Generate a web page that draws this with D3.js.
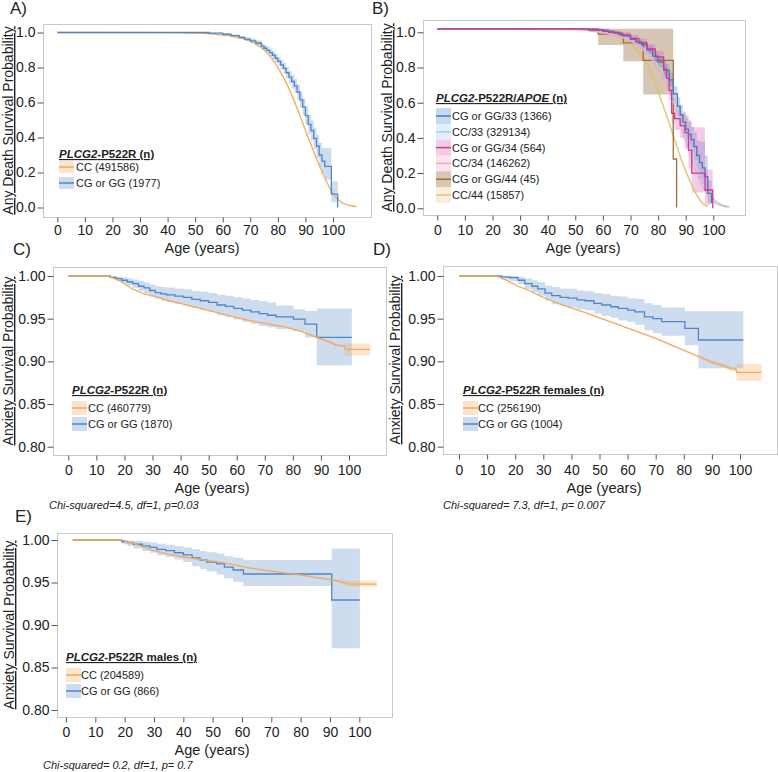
<!DOCTYPE html>
<html><head><meta charset="utf-8">
<script src="https://cdn.jsdelivr.net/npm/d3@7"></script>
<style>
body{margin:0;background:#fff}
text{font-family:"Liberation Sans",Arial,sans-serif;fill:#222}
</style>
</head><body>
<svg id="c" width="778" height="772"></svg>
<script>
// ---------------- DATA ----------------
const xTicks = [0,10,20,30,40,50,60,70,80,90,100];
const yTicksAB = [0.0,0.2,0.4,0.6,0.8,1.0];
const yTicksCDE = [0.80,0.85,0.90,0.95,1.00];

// Panel A
const A_cc_age  = [0,40,50,55,60,65,70,73,76,79,82,85,88,91,94,97,100,103,106,108.5];
const A_cc_surv = [1.0,0.999,0.996,0.992,0.985,0.972,0.95,0.925,0.885,0.825,0.745,0.645,0.525,0.40,0.28,0.17,0.08,0.03,0.012,0.005];
const A_cg_age  = [0,55,60,63,66,68,70,72,74,75,76,77,78,79,80,81,82,83,84,85,86,87,88,89,90,91,92,93,94,95,96,97,99.4,101.7];
const A_cg_surv = [1.0,0.996,0.99,0.982,0.972,0.962,0.952,0.94,0.922,0.91,0.898,0.885,0.87,0.853,0.835,0.815,0.795,0.77,0.745,0.72,0.695,0.66,0.615,0.575,0.525,0.475,0.44,0.395,0.35,0.3,0.265,0.235,0.077,0.0];
const A_cg_lo   = [1.0,0.993,0.985,0.975,0.963,0.951,0.939,0.925,0.905,0.892,0.878,0.863,0.846,0.828,0.808,0.786,0.764,0.737,0.71,0.682,0.655,0.617,0.57,0.527,0.474,0.42,0.382,0.333,0.285,0.23,0.19,0.16,0.03,0.0];
const A_cg_hi   = [1.0,0.999,0.995,0.989,0.981,0.973,0.965,0.955,0.939,0.928,0.918,0.907,0.894,0.878,0.862,0.844,0.826,0.803,0.78,0.758,0.735,0.703,0.66,0.623,0.576,0.53,0.498,0.457,0.415,0.37,0.34,0.34,0.15,0.0];
const A_labels = ["CC (491586)","CG or GG (1977)"];

// Panel B
const B_cg33_age  = [0,55,60,64,67,70,72,74,76,78,80,82,84,85.5,87,88,89,90,91,92,93,94,95,96,97,98,99.4];
const B_cg33_surv = [1.02,1.015,1.005,0.995,0.98,0.96,0.945,0.93,0.9,0.865,0.83,0.785,0.73,0.65,0.58,0.53,0.49,0.45,0.42,0.39,0.35,0.3,0.26,0.23,0.18,0.085,0.03];
const B_cg33_lo   = [1.02,1.01,0.998,0.985,0.968,0.945,0.928,0.91,0.877,0.838,0.8,0.75,0.69,0.605,0.53,0.475,0.43,0.385,0.35,0.315,0.27,0.215,0.17,0.14,0.09,0.03,0.0];
const B_cg33_hi   = [1.02,1.02,1.012,1.005,0.992,0.975,0.962,0.95,0.923,0.892,0.86,0.82,0.77,0.695,0.63,0.585,0.55,0.515,0.49,0.465,0.43,0.385,0.38,0.38,0.3,0.16,0.1];
const B_cc33_age  = [0,50,55,60,65,70,75,80,83,85.5,88,90,92,94,96,98,100,102,104,106];
const B_cc33_surv = [1.02,1.018,1.012,1.0,0.985,0.96,0.905,0.81,0.73,0.64,0.52,0.42,0.33,0.24,0.16,0.1,0.055,0.03,0.015,0.008];
const B_cg34_age  = [0,55,62,66,70,73,76,79,82,83,84,84.9,86,88,89.7,91,92.2,97,99.8];
const B_cg34_surv = [1.02,1.012,1.0,0.985,0.965,0.94,0.905,0.86,0.79,0.74,0.67,0.54,0.51,0.47,0.43,0.33,0.2,0.104,0.0];
const B_cg34_lo   = [1.02,1.005,0.99,0.97,0.945,0.915,0.875,0.825,0.745,0.69,0.615,0.48,0.445,0.4,0.34,0.23,0.09,0.02,0.0];
const B_cg34_hi   = [1.02,1.02,1.01,1.0,0.985,0.965,0.935,0.895,0.835,0.79,0.725,0.6,0.575,0.54,0.53,0.5,0.46,0.22,0.0];
const B_cc34_age  = [0,50,55,60,65,70,75,80,83,85.5,88,90,92,94,96,98,100,102,104,105];
const B_cc34_surv = [1.02,1.017,1.01,0.997,0.98,0.953,0.893,0.79,0.705,0.61,0.48,0.38,0.29,0.2,0.13,0.075,0.04,0.02,0.01,0.005];
const B_cg44_age  = [0,58.3,67.4,74.6,85.5,86.7];
const B_cg44_surv = [1.02,0.99,0.94,0.84,0.28,0.005];
const B_cg44_lo   = [1.02,0.928,0.836,0.646,0.28,0.005];
const B_cg44_hi   = [1.02,1.02,1.02,1.02,0.28,0.005];
const B_cc44_age  = [0,50,60,65,70,73,76,78,80,82,84,86,88,90,92,94,96,98];
const B_cc44_surv = [1.02,1.015,1.0,0.98,0.94,0.89,0.82,0.755,0.665,0.575,0.485,0.39,0.295,0.21,0.14,0.075,0.03,0.01];
const B_cc44_lo   = [1.02,1.012,0.995,0.972,0.93,0.878,0.805,0.738,0.647,0.556,0.466,0.371,0.277,0.194,0.126,0.064,0.022,0.005];
const B_cc44_hi   = [1.02,1.018,1.005,0.988,0.95,0.902,0.835,0.772,0.683,0.594,0.504,0.409,0.313,0.226,0.154,0.086,0.038,0.015];
const B_labels = ["CG or GG/33 (1366)","CC/33 (329134)","CG or GG/34 (564)","CC/34 (146262)","CG or GG/44 (45)","CC/44 (15857)"];

// Panel C
const C_cc_age  = [0,14,18,23,27,31.5,36,41,47,53,59,65,71,77,83,88.5,92,95.6,98.4,98.6,107.5];
const C_cc_surv = [1.0,1.0,0.995,0.9845,0.979,0.9755,0.971,0.967,0.962,0.957,0.952,0.9475,0.944,0.9405,0.935,0.928,0.924,0.919,0.918,0.914,0.914];
const C_cc_lo   = [1.0,1.0,0.9945,0.984,0.9785,0.975,0.9705,0.9665,0.9615,0.9565,0.9515,0.947,0.9435,0.94,0.934,0.927,0.9225,0.9175,0.9165,0.907,0.907];
const C_cc_hi   = [1.0,1.0,0.9955,0.985,0.9795,0.976,0.9715,0.9675,0.9625,0.9575,0.9525,0.948,0.9445,0.941,0.936,0.929,0.9255,0.9205,0.9195,0.921,0.921];
const C_cg_age  = [0,15,17,19,21,23,25,27,29,31,33,35,38,41,44,47,50,53,56,59,62,65,68,71,74,80.2,84.3,88.5,101];
const C_cg_surv = [1.0,0.9985,0.997,0.995,0.993,0.991,0.988,0.986,0.983,0.9805,0.979,0.978,0.9765,0.975,0.9725,0.971,0.969,0.966,0.9645,0.962,0.96,0.958,0.956,0.954,0.952,0.9495,0.9435,0.928,0.928];
const C_cg_hi   = [1.0,1.0,0.9995,0.9985,0.997,0.996,0.994,0.9925,0.99,0.988,0.987,0.9865,0.9855,0.9845,0.9825,0.9815,0.98,0.978,0.977,0.975,0.9735,0.972,0.9705,0.969,0.9655,0.961,0.959,0.962,0.962];
const C_cg_lo   = [1.0,0.997,0.994,0.9915,0.989,0.986,0.982,0.9795,0.976,0.973,0.971,0.9695,0.9675,0.9655,0.9625,0.9605,0.958,0.954,0.952,0.949,0.9465,0.944,0.9415,0.94,0.938,0.9355,0.928,0.8955,0.8955];
const C_labels = ["CC (460779)","CG or GG (1870)"];

// Panel D
const D_cc_age  = [0,13,17,21,25,29,33,37,41,45,50,55,60,65,70,75,80,85,90,94.6,96.5,98.6,98.8,107.7];
const D_cc_surv = [1.0,1.0,0.995,0.988,0.983,0.9765,0.971,0.966,0.9615,0.957,0.951,0.945,0.939,0.933,0.927,0.92,0.913,0.906,0.899,0.8945,0.8915,0.891,0.887,0.887];
const D_cc_lo   = [1.0,1.0,0.9945,0.9875,0.9825,0.976,0.9705,0.9655,0.961,0.9565,0.9505,0.9445,0.9385,0.9325,0.9263,0.919,0.912,0.9045,0.897,0.8925,0.889,0.8885,0.877,0.877];
const D_cc_hi   = [1.0,1.0,0.9955,0.9885,0.9835,0.977,0.9715,0.9665,0.962,0.9575,0.9515,0.9455,0.9395,0.9335,0.9277,0.921,0.914,0.9075,0.901,0.8965,0.894,0.8935,0.8965,0.8965];
const D_cg_age  = [0,15.2,18,21,23.4,26,28,30.6,33,36,38.9,42,44.8,48,50.8,54,56.7,60,62.6,66,69,72.1,80.4,85.2,101.2];
const D_cg_surv = [1.0,0.999,0.998,0.995,0.991,0.988,0.985,0.98,0.977,0.975,0.974,0.972,0.971,0.968,0.966,0.964,0.962,0.96,0.958,0.952,0.95,0.9465,0.9387,0.925,0.925];
const D_cg_hi   = [1.0,1.0,1.0,0.999,0.997,0.995,0.993,0.989,0.987,0.985,0.985,0.983,0.982,0.98,0.979,0.977,0.976,0.974,0.973,0.968,0.966,0.963,0.9586,0.9586,0.9586];
const D_cg_lo   = [1.0,0.996,0.994,0.99,0.985,0.981,0.977,0.971,0.967,0.965,0.963,0.961,0.96,0.956,0.953,0.951,0.948,0.946,0.943,0.936,0.933,0.93,0.919,0.892,0.892];
const D_labels = ["CC (256190)","CG or GG (1004)"];

// Panel E
const E_cc_age  = [2.3,19,23,28.6,34,40,45.7,51.4,57,62,68.4,74,79.8,85,91.1,96.8,105.9];
const E_cc_surv = [1.0,1.0,0.996,0.989,0.984,0.98,0.977,0.9745,0.971,0.9675,0.964,0.9615,0.959,0.956,0.953,0.948,0.948];
const E_cc_lo   = [1.0,1.0,0.9955,0.9885,0.9835,0.9795,0.9765,0.974,0.9705,0.967,0.9633,0.9607,0.9582,0.9552,0.952,0.9451,0.9451];
const E_cc_hi   = [1.0,1.0,0.9965,0.9895,0.9845,0.9805,0.9775,0.975,0.9715,0.968,0.9647,0.9623,0.9598,0.9568,0.954,0.9525,0.9525];
const E_cg_age  = [2.3,19,21,23,26,28.6,31,34,37,40,43,45.7,48,51.4,54,57,60.5,90.6,100.2];
const E_cg_surv = [1.0,0.998,0.997,0.995,0.993,0.9914,0.989,0.9874,0.985,0.9824,0.979,0.9765,0.974,0.9718,0.968,0.9647,0.96,0.9294,0.9294];
const E_cg_hi   = [1.0,1.0,0.9995,0.999,0.998,0.997,0.9955,0.9945,0.993,0.991,0.989,0.987,0.9855,0.984,0.981,0.979,0.9765,0.990,0.990];
const E_cg_lo   = [1.0,0.995,0.993,0.99,0.987,0.985,0.982,0.98,0.977,0.974,0.969,0.966,0.963,0.9595,0.955,0.951,0.946,0.8726,0.8726];
const E_labels = ["CC (204589)","CG or GG (866)"];

// ---------------- STYLE ----------------
const ORANGE = "#f4a95c", ORANGE_BAND = "rgba(246,170,90,0.30)";
const BLUE = "#4f86c6", BLUE_BAND = "rgba(90,140,200,0.30)";

const svg = d3.select("#c");

function toPts(age, s, lo, hi){
  return age.map((a,i)=>({a, s:s[i], lo: lo?lo[i]:null, hi: hi?hi[i]:null}));
}

function drawPanel(p){
  const g = svg.append("g");
  const x = d3.scaleLinear().domain([0,100]).range(p.xr);
  const y = d3.scaleLinear().domain(p.yd).range(p.yr);
  const [fl,ft,fr,fb] = p.frame;
  g.append("rect").attr("x",fl+0.5).attr("y",ft+0.5).attr("width",fr-fl).attr("height",fb-ft)
    .attr("fill","none").attr("stroke","#c9c9c9").attr("stroke-width",1);

  const ya = d3.axisLeft(y).tickValues(p.yt).tickFormat(d3.format(p.yf)).tickSize(6).tickPadding(2);
  const yg = g.append("g").attr("transform",`translate(${fl+0.5},0)`).call(ya);
  yg.select(".domain").remove();
  const xa = d3.axisBottom(x).tickValues(xTicks).tickSize(5).tickPadding(p.xp);
  const xg = g.append("g").attr("transform",`translate(0,${fb+0.5})`).call(xa);
  xg.select(".domain").remove();
  [yg,xg].forEach(a=>{
    a.attr("font-family",null).attr("font-size",null);
    a.selectAll("text").style("font-size","14px").style("fill","#222");
    a.selectAll("line").attr("stroke","#555");
  });

  // bands
  p.series.forEach(se=>{
    if(!se.lo) return;
    const pts = toPts(se.age, se.surv, se.lo, se.hi);
    const area = d3.area().x(d=>x(d.a)).y0(d=>y(d.lo)).y1(d=>y(d.hi))
      .curve(se.step ? d3.curveStepAfter : d3.curveLinear);
    g.append("path").attr("d",area(pts)).attr("fill",se.band).attr("stroke","none");
  });
  // lines
  p.series.forEach(se=>{
    const pts = toPts(se.age, se.surv);
    const line = d3.line().x(d=>x(d.a)).y(d=>y(d.s))
      .curve(se.step ? d3.curveStepAfter : (se.smooth ? d3.curveMonotoneX : d3.curveLinear));
    g.append("path").attr("d",line(pts)).attr("fill","none").attr("stroke",se.color).attr("stroke-width",se.w||1.3);
  });

  // axis titles
  g.append("text").attr("x",p.xlab[0]).attr("y",p.xlab[1]).attr("text-anchor","middle")
    .style("font-size","14.5px").text("Age (years)");
  g.append("text").attr("transform",`translate(${p.ylab[0]},${(ft+fb)/2}) rotate(-90)`)
    .attr("text-anchor","middle").style("font-size","14px").attr("text-decoration","underline")
    .text(p.ylab[1]);
  g.append("text").attr("x",p.letter[0]).attr("y",p.letter[1]).style("font-size","17px").text(p.letter[2]);
  if(p.chi){
    g.append("text").attr("x",p.chi[0]).attr("y",p.chi[1]).style("font-size","11px")
      .style("font-style","italic").text(p.chi[2]);
  }

  // legend
  const L = p.legend;
  const t = g.append("text").attr("x",L.x).attr("y",L.ty).style("font-size","11.5px")
    .style("font-weight","bold").attr("text-decoration","underline");
  L.title.forEach(part=>{
    t.append("tspan").style("font-style",part[1]?"italic":"normal").text(part[0]);
  });
  L.labels.forEach((lab,i)=>{
    const cy = L.y0 + i*L.dy;
    const se = L.items[i];
    g.append("rect").attr("x",L.x).attr("y",cy-L.rh/2).attr("width",15).attr("height",L.rh)
      .attr("fill",se.band);
    g.append("line").attr("x1",L.x).attr("x2",L.x+15).attr("y1",cy).attr("y2",cy)
      .attr("stroke",se.color).attr("stroke-width",1.5);
    g.append("text").attr("x",L.tx).attr("y",cy+4).style("font-size","11px").text(lab);
  });
}

// ---------------- PANELS ----------------
const sA_cc = {age:A_cc_age, surv:A_cc_surv, color:ORANGE, band:ORANGE_BAND, smooth:true};
const sA_cg = {age:A_cg_age, surv:A_cg_surv, lo:A_cg_lo, hi:A_cg_hi, color:BLUE, band:BLUE_BAND, step:true};
drawPanel({
  frame:[43,24,371,217], xr:[57.3,333], yd:[0,1], yr:[207.5,32.5], yt:yTicksAB, yf:".1f", xp:2.5,
  series:[sA_cc, sA_cg],
  xlab:[202,253], ylab:[13,"Any Death Survival Probability"], letter:[10,14,"A)"],
  legend:{x:59, ty:158, y0:167, dy:16, rh:12, tx:76, title:[["PLCG2",true],["-P522R (n)",false]],
    labels:A_labels, items:[sA_cc,sA_cg]}
});

const sB = {
  cg33:{age:B_cg33_age, surv:B_cg33_surv, lo:B_cg33_lo, hi:B_cg33_hi, color:"#4a76b8", band:"rgba(95,145,205,0.35)", step:true},
  cc33:{age:B_cc33_age, surv:B_cc33_surv, color:"#a7cfea", band:"rgba(170,210,236,0.35)", smooth:true},
  cg34:{age:B_cg34_age, surv:B_cg34_surv, lo:B_cg34_lo, hi:B_cg34_hi, color:"#d2379b", band:"rgba(215,90,175,0.30)", step:true},
  cc34:{age:B_cc34_age, surv:B_cc34_surv, color:"#f4a6c2", band:"rgba(245,165,195,0.30)", smooth:true},
  cg44:{age:B_cg44_age, surv:B_cg44_surv, lo:B_cg44_lo, hi:B_cg44_hi, color:"#9f6d3e", band:"rgba(160,118,75,0.42)", step:true},
  cc44:{age:B_cc44_age, surv:B_cc44_surv, lo:B_cc44_lo, hi:B_cc44_hi, color:"#e7c27b", band:"rgba(232,196,128,0.28)", smooth:true}
};
drawPanel({
  frame:[423,20,745,215], xr:[437.3,713.3], yd:[0,1], yr:[208.3,32.3], yt:yTicksAB, yf:".1f", xp:5,
  series:[sB.cc44, sB.cg44, sB.cc33, sB.cc34, sB.cg33, sB.cg34],
  xlab:[583,253], ylab:[392,"Any Death Survival Probability"], letter:[372,14,"B)"],
  legend:{x:436, ty:102, y0:116, dy:15.8, rh:15.8, tx:452, title:[["PLCG2",true],["-P522R/",false],["APOE",true],[" (n)",false]],
    labels:B_labels, items:[sB.cg33,sB.cc33,sB.cg34,sB.cc34,sB.cg44,sB.cc44]}
});

const sC_cc = {age:C_cc_age, surv:C_cc_surv, lo:C_cc_lo, hi:C_cc_hi, color:ORANGE, band:ORANGE_BAND};
const sC_cg = {age:C_cg_age, surv:C_cg_surv, lo:C_cg_lo, hi:C_cg_hi, color:BLUE, band:BLUE_BAND, step:true};
drawPanel({
  frame:[53,267,386,455], xr:[68.3,349], yd:[0.8,1.0], yr:[446.7,276], yt:yTicksCDE, yf:".2f", xp:5,
  series:[sC_cg, sC_cc],
  xlab:[212,493], ylab:[13,"Anxiety Survival Probability"], letter:[13,255,"C)"],
  chi:[49,509,"Chi-squared=4.5, df=1, p=0.03"],
  legend:{x:72, ty:394, y0:408, dy:16, rh:14, tx:88, title:[["PLCG2",true],["-P522R (n)",false]],
    labels:C_labels, items:[sC_cc,sC_cg]}
});

const sD_cc = {age:D_cc_age, surv:D_cc_surv, lo:D_cc_lo, hi:D_cc_hi, color:ORANGE, band:ORANGE_BAND};
const sD_cg = {age:D_cg_age, surv:D_cg_surv, lo:D_cg_lo, hi:D_cg_hi, color:BLUE, band:BLUE_BAND, step:true};
drawPanel({
  frame:[443,266,777,454], xr:[459,740], yd:[0.8,1.0], yr:[446.7,276], yt:yTicksCDE, yf:".2f", xp:6,
  series:[sD_cg, sD_cc],
  xlab:[604,493], ylab:[400,"Anxiety Survival Probability"], letter:[373,255,"D)"],
  chi:[443,509,"Chi-squared= 7.3, df=1, p= 0.007"],
  legend:{x:463, ty:394, y0:408, dy:16, rh:14, tx:478, title:[["PLCG2",true],["-P522R females (n)",false]],
    labels:D_labels, items:[sD_cc,sD_cg]}
});

const sE_cc = {age:E_cc_age, surv:E_cc_surv, lo:E_cc_lo, hi:E_cc_hi, color:ORANGE, band:ORANGE_BAND};
const sE_cg = {age:E_cg_age, surv:E_cg_surv, lo:E_cg_lo, hi:E_cg_hi, color:BLUE, band:BLUE_BAND, step:true};
drawPanel({
  frame:[57,533,392,717], xr:[66,359.3], yd:[0.8,1.0], yr:[710,540], yt:yTicksCDE, yf:".2f", xp:5,
  series:[sE_cg, sE_cc],
  xlab:[212,755], ylab:[14,"Anxiety Survival Probability"], letter:[15,522,"E)"],
  chi:[43,769,"Chi-squared= 0.2, df=1, p= 0.7"],
  legend:{x:66, ty:661, y0:675, dy:16, rh:14, tx:81, title:[["PLCG2",true],["-P522R males (n)",false]],
    labels:E_labels, items:[sE_cc,sE_cg]}
});
</script>
</body></html>
